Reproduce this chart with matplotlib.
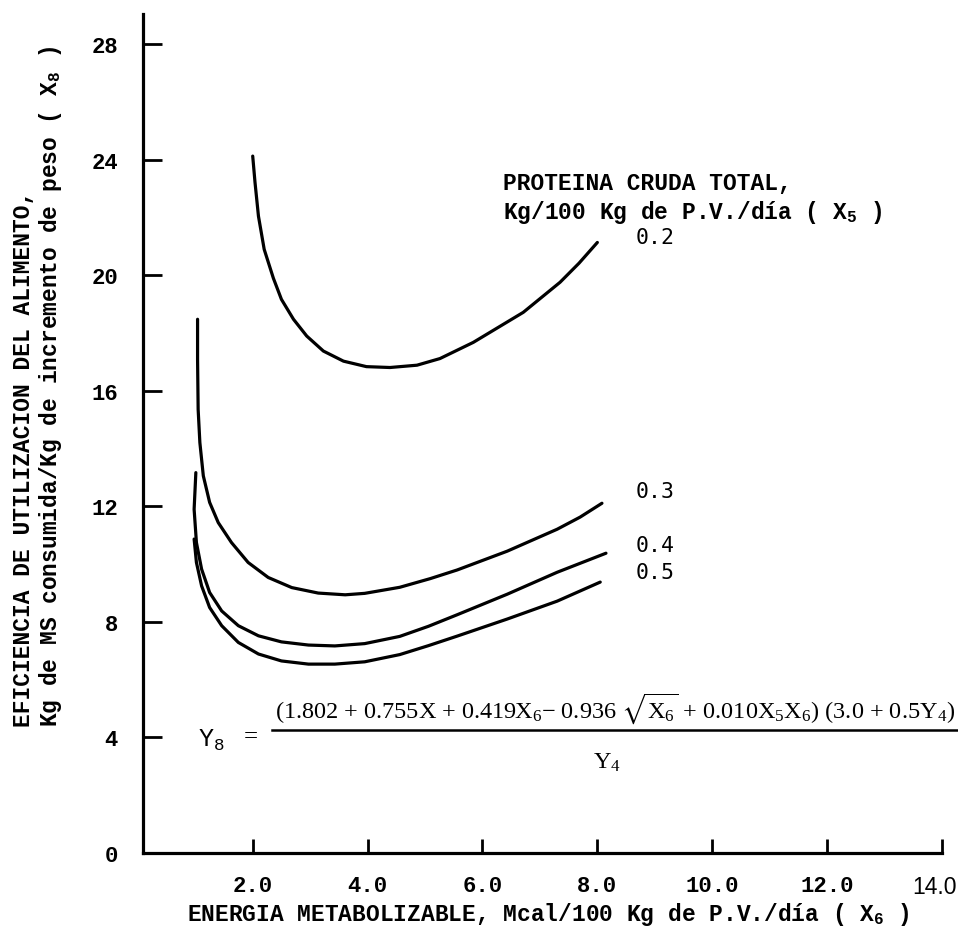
import matplotlib
matplotlib.use('Agg')
import matplotlib.pyplot as plt
from matplotlib.lines import Line2D
from matplotlib.transforms import ScaledTranslation

plt.rcParams['mathtext.default'] = 'regular'
plt.rcParams['mathtext.fontset'] = 'stix'

MONO = 'Liberation Mono'
SERIF = 'Liberation Serif'

# curves: proteina cruda total X5 = 0.2 ... 0.5
x_02 = [2.00, 2.04, 2.10, 2.20, 2.36, 2.50, 2.71, 2.94, 3.23, 3.58, 3.98, 4.39, 4.86, 5.26,
        5.84, 6.71, 7.35, 7.68, 8.00]
y_02 = [24.13, 23.22, 22.05, 20.90, 19.90, 19.17, 18.48, 17.90, 17.38, 17.03, 16.84, 16.81,
        16.89, 17.12, 17.68, 18.72, 19.76, 20.42, 21.14]

x_03 = [1.04, 1.04, 1.05, 1.08, 1.14, 1.25, 1.40, 1.63, 1.92, 2.27, 2.68, 3.14, 3.61, 3.95,
        4.56, 5.09, 5.56, 6.43, 7.30, 7.70, 8.08]
y_03 = [18.48, 17.09, 15.36, 14.21, 13.06, 12.14, 11.44, 10.75, 10.06, 9.54, 9.19, 9.00, 8.94,
        8.99, 9.20, 9.50, 9.80, 10.45, 11.21, 11.63, 12.11]

x_04 = [1.01, 0.98, 1.02, 1.11, 1.25, 1.46, 1.75, 2.10, 2.50, 2.97, 3.43, 3.95, 4.56, 5.06,
        5.56, 6.43, 7.30, 8.15]
y_04 = [13.17, 11.90, 10.75, 9.83, 9.02, 8.38, 7.87, 7.52, 7.31, 7.20, 7.17, 7.25, 7.50, 7.85,
        8.25, 8.96, 9.72, 10.38]

x_05 = [0.98, 1.02, 1.11, 1.25, 1.46, 1.75, 2.10, 2.50, 2.97, 3.43, 3.95, 4.56, 5.06, 5.56,
        6.43, 7.30, 8.05]
y_05 = [10.87, 10.06, 9.25, 8.50, 7.87, 7.29, 6.89, 6.65, 6.54, 6.54, 6.62, 6.87, 7.18, 7.51,
        8.10, 8.72, 9.38]

curve_labels = ['0.2', '0.3', '0.4', '0.5']

x_ticks = [2, 4, 6, 8, 10, 12, 14]
x_tick_labels = ['2.0', '4.0', '6.0', '8.0', '10.0', '12.0', '14.0']
y_ticks = [0, 4, 8, 12, 16, 20, 24, 28]

W, H = 958, 928


def fx(px):
    return px / W


def fy(py):
    return 1 - py / H


fig = plt.figure(figsize=(W / 100, H / 100), dpi=100)
ax = fig.add_axes([fx(143), fy(854), (942 - 143) / W, (854 - 15) / H])

for xs, ys in [(x_02, y_02), (x_03, y_03), (x_04, y_04), (x_05, y_05)]:
    ax.plot(xs, ys, color='black', lw=2.3, solid_capstyle='round', solid_joinstyle='round')

ax.set_xlim(0.09, 14.0)
ax.set_ylim(0, 29.05)
for s in ['top', 'right']:
    ax.spines[s].set_visible(False)
for s in ['left', 'bottom']:
    ax.spines[s].set_linewidth(2.3)

ax.set_xticks(x_ticks)
ax.set_xticklabels(x_tick_labels, fontfamily=MONO, fontsize=16, fontweight='bold')
ax.set_yticks(y_ticks)
ax.set_yticklabels([str(v) for v in y_ticks], fontfamily=MONO, fontsize=16, fontweight='bold')
ax.tick_params(axis='x', direction='in', length=10, width=2, pad=16)
ax.tick_params(axis='y', direction='in', length=14, width=2, pad=18)

# last x label is narrower in the original and sits inside the edge
last = ax.get_xticklabels()[-1]
last.set_fontfamily('Liberation Sans')
last.set_fontweight('normal')
last.set_fontsize(16.5)
last.set_horizontalalignment('right')
last.set_transform(last.get_transform() + ScaledTranslation(15 / 100, 0, fig.dpi_scale_trans))

# axis titles
fig.text(fx(548), fy(915), r'ENERGIA METABOLIZABLE, Mcal/100 Kg de P.V./día ( X$_6$ )',
         family=MONO, fontsize=16.5, fontweight='bold', ha='center', va='center')
fig.text(fx(24), fy(727), 'EFICIENCIA DE UTILIZACION DEL ALIMENTO,',
         family=MONO, fontsize=16.5, fontweight='bold', rotation=90, ha='center', va='bottom')
fig.text(fx(51), fy(727), r'Kg de MS consumida/Kg de incremento de peso ( X$_8$ )',
         family=MONO, fontsize=16.5, fontweight='bold', rotation=90, ha='center', va='bottom')

# legend title and curve labels
fig.text(fx(503), fy(183), 'PROTEINA CRUDA TOTAL,', family=MONO, fontsize=16.5,
         fontweight='bold', ha='left', va='center')
fig.text(fx(503), fy(212), r'Kg/100 Kg de P.V./día ( X$_5$ )', family=MONO, fontsize=16.5,
         fontweight='bold', ha='left', va='center')
for lab, py in zip(curve_labels, [238, 492, 546, 573]):
    fig.text(fx(636), fy(py), lab, family='DejaVu Sans Mono', fontsize=15.5,
             ha='left', va='center')

# equation
fig.text(fx(615), fy(709),
         r'(1.802 + 0.755X + 0.419X$_6$$-$ 0.936 $\sqrt{X_6}$ + 0.010X$_5$X$_6$) (3.0 + 0.5Y$_4$)',
         family=SERIF, fontsize=17.5, ha='center', va='center')
fig.add_artist(Line2D([fx(272), fx(957)], [fy(731), fy(731)], color='black', lw=1.8))
fig.text(fx(607), fy(763), r'Y$_4$', family=SERIF, fontsize=17.5, ha='center', va='center')
fig.text(fx(198), fy(740), r'Y$_8$', family=MONO, fontsize=18, ha='left', va='center')
fig.text(fx(251), fy(737), '=', family=SERIF, fontsize=18, ha='center', va='center')

fig.savefig('out.png', dpi=100)
